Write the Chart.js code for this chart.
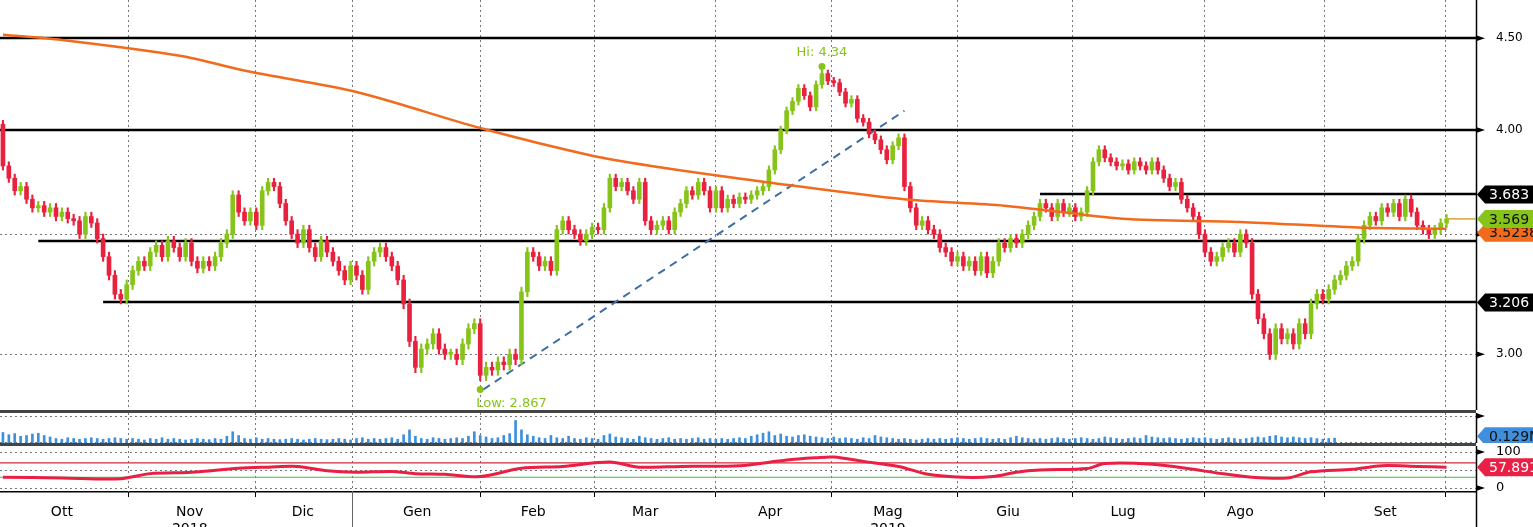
<!DOCTYPE html>
<html><head><meta charset="utf-8">
<script src="https://cdn.jsdelivr.net/npm/chart.js@4/dist/chart.umd.min.js"></script>
<style>
body{margin:0;background:#fff;width:1533px;height:527px;overflow:hidden;position:relative;font-family:"DejaVu Sans",sans-serif}
canvas{position:absolute;left:0;display:block}
.sep{position:absolute;left:0;width:1476px;height:3px;background:#444}
</style></head><body>
<canvas id="p" width="1533" height="410" style="top:0;width:1533px;height:410px"></canvas>
<div class="sep" style="top:410px"></div>
<canvas id="v" width="1533" height="30" style="top:413px;width:1533px;height:30px"></canvas>
<div class="sep" style="top:443px"></div>
<canvas id="r" width="1533" height="81" style="top:446px;width:1533px;height:81px"></canvas>
<script>
const closes=[3.82,3.76,3.70,3.72,3.66,3.62,3.63,3.60,3.62,3.58,3.60,3.57,3.56,3.50,3.58,3.55,3.48,3.40,3.32,3.24,3.22,3.28,
3.34,3.38,3.36,3.42,3.45,3.40,3.47,3.44,3.40,3.46,3.38,3.35,3.38,3.36,3.40,3.46,3.50,
3.68,3.60,3.56,3.60,3.54,3.70,3.74,3.72,3.64,3.56,
3.50,3.46,3.52,3.44,3.40,3.47,3.42,3.38,3.34,3.30,3.36,3.32,3.26,3.38,3.42,3.44,
3.40,3.36,3.30,3.20,3.05,2.95,3.02,3.04,3.08,3.02,3.00,3.00,2.98,3.04,3.10,3.12,
2.92,2.95,2.94,2.97,2.96,3.00,2.98,3.25,
3.42,3.40,3.36,3.38,3.34,3.52,3.56,3.52,3.50,3.47,3.50,3.53,3.52,
3.62,3.76,3.72,3.74,
3.70,3.66,3.74,3.56,3.52,
3.54,3.56,3.52,3.60,3.64,3.70,3.68,3.74,
3.70,3.62,3.70,3.62,3.66,3.64,3.67,3.66,3.68,3.70,
3.72,3.80,3.90,4.00,4.10,
4.15,4.22,4.18,4.12,4.24,4.30,4.26,
4.25,4.20,4.14,4.16,4.06,4.04,3.98,3.95,3.90,3.85,3.92,3.96,
3.72,3.62,3.54,3.56,3.52,3.50,
3.44,3.42,3.38,3.40,3.36,3.38,3.34,3.40,3.33,3.38,3.46,
3.44,3.48,3.46,3.50,3.54,3.58,3.64,
3.62,3.58,3.64,3.60,3.62,3.58,3.60,3.70,
3.84,3.90,3.86,3.84,3.82,3.83,3.80,3.84,3.82,3.80,3.84,3.80,
3.76,3.72,3.74,3.66,3.62,3.58,3.50,3.42,3.38,
3.40,3.44,3.46,3.42,3.50,3.46,
3.24,3.14,3.08,3.00,3.10,3.06,3.08,3.04,3.12,3.08,
3.20,3.24,3.22,3.26,3.30,3.32,3.36,
3.38,3.48,3.54,3.58,3.56,3.62,3.60,
3.64,3.58,3.66,3.60,3.54,3.52,3.50,3.52,3.55,3.569];
const firstOpen=4.03;
const volumes=[0.28,0.22,0.25,0.18,0.2,0.24,0.26,0.2,0.16,0.12,0.1,0.14,0.12,0.1,0.12,0.14,0.12,0.1,0.12,0.14,0.12,0.1,
0.12,0.1,0.08,0.12,0.1,0.14,0.1,0.12,0.1,0.08,0.1,0.12,0.1,0.09,0.12,0.1,0.18,0.3,0.2,0.12,0.1,0.14,
0.1,0.12,0.1,0.09,0.1,0.12,0.1,0.08,0.1,0.12,0.1,0.09,0.1,0.12,0.1,0.08,0.12,0.14,0.1,0.12,0.1,
0.12,0.14,0.1,0.22,0.35,0.18,0.12,0.1,0.14,0.12,0.1,0.12,0.14,0.12,0.18,0.3,
0.2,0.16,0.12,0.14,0.2,0.25,0.6,0.35,0.22,0.18,0.14,0.12,0.2,0.14,0.12,0.18,0.12,0.1,0.14,0.12,0.1,
0.2,0.24,0.16,0.14,0.12,0.1,0.18,0.14,0.12,0.1,0.12,0.14,0.1,0.12,0.1,0.12,0.14,0.1,0.12,0.1,0.12,0.1,0.12,0.14,
0.12,0.18,0.22,0.26,0.3,0.2,0.24,0.18,0.16,0.2,0.22,0.18,0.16,0.14,0.12,0.16,0.12,0.14,0.12,0.1,0.14,0.12,
0.2,0.16,0.14,0.12,0.1,0.12,0.1,0.08,0.1,0.12,0.1,0.12,0.1,0.12,0.14,0.12,0.1,0.12,0.14,0.12,0.1,0.12,0.1,0.14,
0.18,0.14,0.12,0.1,0.12,0.1,0.12,0.14,0.12,0.1,0.12,0.14,0.12,0.1,0.12,0.16,0.14,0.12,0.1,0.12,0.14,0.12,
0.2,0.16,0.14,0.12,0.14,0.12,0.1,0.12,0.14,0.12,0.14,0.12,0.1,0.12,0.14,0.12,0.1,0.12,0.14,0.16,0.14,
0.18,0.2,0.16,0.14,0.16,0.14,0.12,0.14,0.12,0.1,0.12,0.129];
const maPts=[[0,4.52],[10,4.49],[30,4.40],[42,4.31],[60,4.20],[81,4.01],[100,3.87],[110,3.82],[130,3.74],[153,3.66],[170,3.63],[190,3.57],[210,3.555],[230,3.53],[245,3.524]];
const rsiPts=[[0,30],[10,28],[20,26],[25,40],[32,44],[40,55],[45,58],[50,60],[55,48],[60,44],[66,46],[70,40],[75,38],[81,32],[88,55],[95,60],[103,72],[108,58],[115,60],[125,62],[133,78],[138,84],[141,86],[146,74],[152,60],[157,38],[163,30],[168,32],[172,44],[176,50],[184,54],[187,68],[195,66],[202,52],[206,42],[212,30],[218,28],[222,45],[229,52],[234,62],[240,60],[245,57.8916]];
const priceTicks=[3.0,3.5,4.0,4.5];
const levels=[[4.5,-0.5],[4.0,-0.5],[3.683,176],[3.468,6],[3.206,17]];
const trendLine=[[81.5,2.867],[153,4.10]];
const gridIdx=[21.2,42.8,59.2,81.0,100.3,120.9,140.5,161.9,181.4,203.8,224.2,244.7];
const monthIdx=[10,31.7,50.9,70.3,90,109,130.2,150.2,170.6,190.1,210,234.6];
const monthLabels=[['Ott'],['Nov','2018'],['Dic'],['Gen'],['Feb'],['Mar'],['Apr'],['Mag','2019'],['Giu'],['Lug'],['Ago'],['Set']];
const hiLo={hi:[139,4.34,'Hi: 4.34'],lo:[81,2.867,'Low: 2.867']};

const RED='#e8213f',GRN='#86c41a',ORG='#f26a1b';
const opens=closes.map((c,i)=>i?closes[i-1]:firstOpen);
const XMIN=-0.5,XMAX=250;
const AXW=57;
Chart.defaults.font.family='"DejaVu Sans", sans-serif';
Chart.defaults.animation=false;
const gridX=()=>({type:'linear',min:XMIN,max:XMAX,offset:false,display:false});
const yBase=(lo,hi,extra)=>Object.assign({position:'right',min:lo,max:hi,
  afterDataLimits:s=>{s.min=lo;s.max=hi},
  afterFit:s=>{s.width=AXW;s.paddingTop=0;s.paddingBottom=0},
  border:{display:false},grid:{color:'#777',drawTicks:false,tickLength:0},
  ticks:{color:'#000',font:{size:12},padding:12}},extra);
const opts=(scales)=>({responsive:false,maintainAspectRatio:false,devicePixelRatio:1,layout:{padding:0,autoPadding:false},
  plugins:{legend:{display:false},tooltip:{enabled:false}},scales});

function tag(ctx,x,y,text,bg,fg){
  ctx.save();ctx.font='14px "DejaVu Sans"';
  const w=ctx.measureText(text).width+10,h=18;
  ctx.fillStyle=bg;ctx.beginPath();ctx.moveTo(x,y);ctx.lineTo(x+8,y-h/2);ctx.lineTo(x+8+w,y-h/2);ctx.lineTo(x+8+w,y+h/2);ctx.lineTo(x+8,y+h/2);ctx.closePath();ctx.fill();
  ctx.fillStyle=fg;ctx.textBaseline='middle';ctx.fillText(text,x+12,y+1);ctx.restore();
}
function hgrid(c,vals){const {ctx,chartArea:a,scales:{y}}=c;ctx.save();ctx.strokeStyle='#777';ctx.lineWidth=1;ctx.setLineDash([2,3]);
  vals.forEach(v=>{const py=Math.round(y.getPixelForValue(v))+0.5;ctx.beginPath();ctx.moveTo(a.left,py);ctx.lineTo(a.right,py);ctx.stroke();});ctx.restore();}
function vgrid(c,bottom){const {ctx,scales:{x}}=c;ctx.save();ctx.strokeStyle='#777';ctx.lineWidth=1;ctx.setLineDash([2,3]);
  gridIdx.forEach(i=>{const px=Math.round(x.getPixelForValue(i))+0.5;ctx.beginPath();ctx.moveTo(px,0);ctx.lineTo(px,bottom||c.height);ctx.stroke();});ctx.restore();}
function axisLine(c,ticks){const {ctx,chartArea:a,scales:{y}}=c;ctx.save();ctx.strokeStyle='#000';ctx.lineWidth=1.5;
  ctx.beginPath();ctx.moveTo(a.right+0.5,0);ctx.lineTo(a.right+0.5,c.height);ctx.stroke();
  ctx.fillStyle='#000';(ticks||[]).forEach(v=>{const py=y.getPixelForValue(v);ctx.beginPath();ctx.moveTo(a.right,py-3);ctx.lineTo(a.right+9,py);ctx.lineTo(a.right,py+3);ctx.fill();});
  ctx.restore();}

const pricePlugin={id:'pp',
 beforeDatasetsDraw(c){const {ctx,scales:{x,y}}=c;vgrid(c);hgrid(c,priceTicks);ctx.save();
  ctx.strokeStyle='#000';ctx.lineWidth=2.5;
  levels.forEach(([v,i0])=>{const py=Math.round(y.getPixelForValue(v));ctx.beginPath();ctx.moveTo(x.getPixelForValue(i0),py);ctx.lineTo(x.right,py);ctx.stroke();});
  ctx.setLineDash([8,6]);ctx.strokeStyle='#3d6fa3';ctx.lineWidth=2;ctx.beginPath();
  ctx.moveTo(x.getPixelForValue(trendLine[0][0]),y.getPixelForValue(trendLine[0][1]));
  ctx.lineTo(x.getPixelForValue(trendLine[1][0]),y.getPixelForValue(trendLine[1][1]));ctx.stroke();ctx.restore();},
 afterDraw(c){const {ctx,scales:{x,y}}=c;axisLine(c,priceTicks);ctx.save();
  const last=closes.length-1,lx=x.getPixelForValue(last),ly=y.getPixelForValue(closes[last]);
  ctx.strokeStyle='#d9a23a';ctx.lineWidth=1.5;ctx.beginPath();ctx.moveTo(lx,ly);ctx.lineTo(x.right,ly);ctx.stroke();
  ctx.fillStyle=GRN;ctx.font='13px "DejaVu Sans"';
  [['hi',-14],['lo',14]].forEach(([k,dy])=>{const [i,v,t]=hiLo[k];const px=x.getPixelForValue(i),py=y.getPixelForValue(v);
    ctx.beginPath();ctx.arc(px,py,3.5,0,7);ctx.fill();ctx.textAlign=k==='hi'?'center':'left';ctx.textBaseline='middle';ctx.fillText(t,k==='hi'?px:px-4,py+dy);});
  const r=x.right+1;
  tag(ctx,r,y.getPixelForValue(3.5238)+4,'3.5238',ORG,'#111');
  tag(ctx,r,y.getPixelForValue(3.569),'3.569',GRN,'#111');
  tag(ctx,r,y.getPixelForValue(3.683),'3.683','#000','#fff');
  tag(ctx,r,y.getPixelForValue(3.206),'3.206','#000','#fff');
  ctx.restore();}
};
const cols=closes.map((c,i)=>c<opens[i]?RED:GRN);
new Chart(document.getElementById('p'),{type:'bar',
 data:{datasets:[
  {type:'line',data:maPts.map(([x,y])=>({x,y})),borderColor:ORG,borderWidth:2.5,pointRadius:0,tension:0.3,order:0},
  {data:closes.map((c,i)=>({x:i,y:[Math.min(c,opens[i])-0.02,Math.max(c,opens[i])+0.02]})),backgroundColor:cols,barThickness:1.5,grouped:false,order:2},
  {data:closes.map((c,i)=>({x:i,y:[opens[i],c]})),backgroundColor:cols,barThickness:4,grouped:false,minBarLength:2,order:1}
 ]},
 options:opts({x:gridX(),
   y:yBase(2.793,4.726,{type:'logarithmic',
    afterBuildTicks:a=>{a.ticks=priceTicks.map(v=>({value:v}))},grid:{display:false},
    ticks:{callback:v=>Number(v).toFixed(2),color:'#000',font:{size:12},padding:12}})}),
 plugins:[pricePlugin]});

new Chart(document.getElementById('v'),{type:'bar',
 data:{datasets:[{data:volumes.map((v,i)=>({x:i,y:v})),backgroundColor:'#3f8fdc',barThickness:2}]},
 options:opts({x:gridX(),y:yBase(0,0.8,{afterBuildTicks:a=>{a.ticks=[{value:0.03},{value:0.72}]},grid:{display:false},ticks:{display:false}})}),
 plugins:[{id:'vt',beforeDatasetsDraw(c){vgrid(c);hgrid(c,[0.03,0.72])},afterDraw(c){axisLine(c,[0.72]);tag(c.ctx,c.scales.x.right+1,c.scales.y.getPixelForValue(0.129)-2,'0.129M','#3f8fdc','#111')}}]});

new Chart(document.getElementById('r'),{type:'line',
 data:{datasets:[{data:rsiPts.map(([x,y])=>({x,y})),borderColor:'#ea1f45',borderWidth:3,pointRadius:0,tension:0.3}]},
 options:opts({x:gridX(),
   x2:{type:'linear',position:'bottom',min:XMIN,max:XMAX,afterBuildTicks:a=>{a.ticks=monthIdx.map(v=>({value:v}))},
     afterFit:s=>{s.height=35;s.paddingLeft=0;s.paddingRight=0},
     ticks:{autoSkip:false,maxRotation:0,color:'#000',font:{size:14},padding:4,callback:(v,i)=>monthLabels[i]},
     border:{color:'#000',width:1.5},grid:{display:false}},
   y:yBase(-11,116.7,{afterBuildTicks:a=>{a.ticks=[{value:0},{value:100}]},grid:{display:false},
    ticks:{color:'#000',font:{size:13},padding:12}})}),
 plugins:[{id:'rl',beforeDatasetsDraw(c){const {ctx,scales:{x,y}}=c;
   vgrid(c,y.bottom);hgrid(c,[0,50,100]);
   ctx.save();ctx.lineWidth=1.2;
   [[70,'#d8283a'],[30,'#3fbf3f']].forEach(([v,col])=>{ctx.strokeStyle=col;const py=y.getPixelForValue(v);ctx.beginPath();ctx.moveTo(x.left,py);ctx.lineTo(x.right,py);ctx.stroke();});
   ctx.strokeStyle='#000';ctx.lineWidth=1;gridIdx.forEach(i=>{const px=Math.round(x.getPixelForValue(i))+0.5;ctx.beginPath();ctx.moveTo(px,y.bottom);ctx.lineTo(px,y.bottom+5);ctx.stroke();});
   ctx.strokeStyle='#666';ctx.beginPath();const yx=Math.round(x.getPixelForValue(59.2))+0.5;ctx.moveTo(yx,y.bottom);ctx.lineTo(yx,y.bottom+35);ctx.stroke();ctx.restore();},
  afterDraw(c){axisLine(c,[0,100]);tag(c.ctx,c.scales.x.right+1,c.scales.y.getPixelForValue(57.8916),'57.8916','#ea1f45','#fff')}}]});
</script></body></html>
